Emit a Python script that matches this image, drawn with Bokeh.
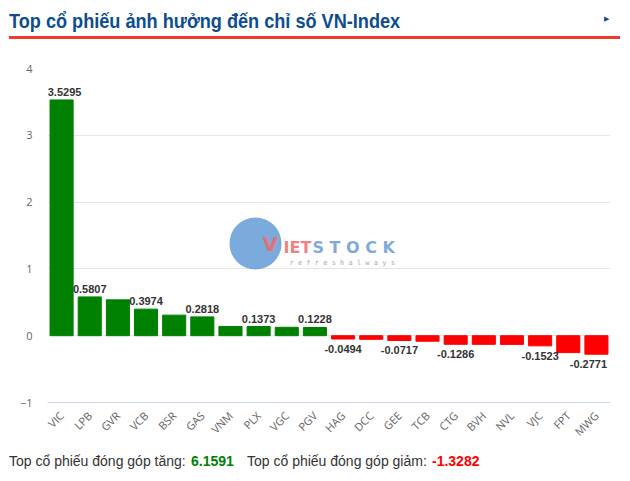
from math import pi
from bokeh.plotting import figure
from bokeh.layouts import column
from bokeh.models import (ColumnDataSource, Range1d, FactorRange, FixedTicker, Label,
                          BoxAnnotation, Div)
from bokeh.core.properties import value
from bokeh.embed import file_html
from bokeh.resources import INLINE

# ---- data ----
tickers = ["VIC", "LPB", "GVR", "VCB", "BSR", "GAS", "VNM", "PLX", "VGC", "PGV",
           "HAG", "DCC", "GEE", "TCB", "CTG", "BVH", "NVL", "VJC", "FPT", "MWG"]
impact = [3.5295, 0.5807, 0.5366, 0.3974, 0.3080, 0.2818, 0.1390, 0.1373, 0.1260, 0.1228,
          -0.0494, -0.0540, -0.0717, -0.0830, -0.1286, -0.1293, -0.1300, -0.1523, -0.2530, -0.2771]
labelled = ["VIC", "LPB", "VCB", "GAS", "PLX", "PGV", "HAG", "GEE", "CTG", "VJC", "MWG"]
y_ticks = [-1, 0, 1, 2, 3, 4]
total_up = 6.1591
total_down = -1.3282
title_text = "Top cổ phiếu ảnh hưởng đến chỉ số VN-Index"
foot_up = "Top cổ phiếu đóng góp tăng:"
foot_down = "Top cổ phiếu đóng góp giảm:"

W = 620
HEAD_H, MAIN_H, FOOT_H = 50, 398, 28
FL, FT, FR, FB = 47, 68, 610, 402          # frame box on the page
GREEN, RED = "#008000", "#ff0000"
TITLE_BLUE = "#0d4d8f"

colors = [GREEN if v >= 0 else RED for v in impact]
src = ColumnDataSource(dict(x=tickers, top=impact, color=colors))

def nudge(t):
    # keep the edge labels inside the plot area
    if t == tickers[0]:
        return 3
    if t == tickers[-1]:
        return -8
    return 0

pos = [(t, v) for t, v in zip(tickers, impact) if t in labelled and v >= 0]
neg = [(t, v) for t, v in zip(tickers, impact) if t in labelled and v < 0]
src_pos = ColumnDataSource(dict(x=[t for t, _ in pos], y=[v for _, v in pos],
                                txt=["%.4f" % v for _, v in pos],
                                dx=[nudge(t) for t, _ in pos]))
src_neg = ColumnDataSource(dict(x=[t for t, _ in neg], y=[v for _, v in neg],
                                txt=["%.4f" % v for _, v in neg],
                                dx=[nudge(t) for t, _ in neg]))

# ---------------- main chart ----------------
p = figure(x_range=FactorRange(*tickers), y_range=Range1d(y_ticks[0], y_ticks[-1]),
           width=W, height=MAIN_H, output_backend="svg", toolbar_location=None,
           min_border_left=FL, min_border_right=W - FR,
           min_border_top=FT - HEAD_H, min_border_bottom=HEAD_H + MAIN_H - FB)
p.outline_line_color = None
p.xgrid.grid_line_color = None
p.ygrid.grid_line_color = "#e6e6e6"

p.yaxis.ticker = FixedTicker(ticks=y_ticks)
p.yaxis.major_label_overrides = {-1: "\u22121"}
p.yaxis.axis_line_color = None
p.yaxis.major_tick_line_color = None
p.yaxis.minor_tick_line_color = None
p.yaxis.major_tick_out = 0
p.yaxis.major_tick_in = 0
p.yaxis.major_label_standoff = 15
p.yaxis.major_label_text_font = "Open Sans"
p.yaxis.major_label_text_font_size = "11px"
p.yaxis.major_label_text_color = "#666666"

p.xaxis.axis_line_color = "#ccd6eb"
p.xaxis.major_tick_line_color = None
p.xaxis.major_tick_out = 0
p.xaxis.major_tick_in = 0
p.xaxis.major_label_orientation = pi / 4
p.xaxis.major_label_standoff = 11
p.xaxis.major_label_text_font = "Open Sans"
p.xaxis.major_label_text_font_size = "11px"
p.xaxis.major_label_text_color = "#666666"

def sx(px):
    return px - FL

def sy(py):
    return FB - py

def wm(px, py, text, **kw):
    p.add_layout(Label(x=sx(px), y=sy(py), x_units="screen", y_units="screen", text=text,
                       text_baseline="middle", level="underlay", **kw))

# watermark (Vietstock logo)
p.add_layout(BoxAnnotation(left=sx(229), right=sx(281), top=sy(217), bottom=sy(269),
                           left_units="screen", right_units="screen",
                           top_units="screen", bottom_units="screen",
                           fill_color="#4f8fd0", fill_alpha=0.75, line_color=None,
                           border_radius=26, level="underlay"))
wm(262, 243, "V", text_font="DejaVu Sans", text_font_style="bold", text_font_size="20px",
   text_color="#f06a6a", text_alpha=0.9)
wm(283, 247, "IET", text_font="DejaVu Sans", text_font_style="bold", text_font_size="16px",
   text_color="#f06a6a", text_alpha=0.85)
wm(312, 247, "S T O C K", text_font="DejaVu Sans", text_font_style="bold", text_font_size="16px",
   text_color="#6a9bd2", text_alpha=0.85)
wm(289, 262, "r e f r e s h   a l w a y s", text_font="DejaVu Sans Mono", text_font_size="7px",
   text_color="#aaaaaa")

p.vbar(x="x", top="top", bottom=0, width=0.82, color="color", source=src)

p.text(x="x", y="y", text="txt", source=src_pos, text_align="center", text_baseline="bottom",
       y_offset=-4, x_offset="dx", text_font=value("Liberation Sans"), text_font_style="bold",
       text_font_size="11px", text_color="#333333")
p.text(x="x", y="y", text="txt", source=src_neg, text_align="center", text_baseline="top",
       y_offset=6, x_offset="dx", text_font=value("Liberation Sans"), text_font_style="bold",
       text_font_size="11px", text_color="#333333")

# ---------------- header & footer ----------------
head_html = (
    f'<div style="position:relative;width:{W}px;height:{HEAD_H}px;margin:0;padding:0;">'
    f'<span style="position:absolute;left:9px;top:7px;line-height:28px;white-space:nowrap;'
    f'font-family:\'Liberation Sans\',Arial,sans-serif;font-weight:bold;'
    f'font-size:21px;color:{TITLE_BLUE};transform:scaleX(0.863);transform-origin:0 50%;'
    f'display:inline-block;">{title_text}</span>'
    f'<span style="position:absolute;left:604px;top:12px;line-height:14px;font-size:7px;'
    f'font-family:\'DejaVu Sans\';color:{TITLE_BLUE};">&#9654;</span>'
    f'<div style="position:absolute;left:9px;top:36px;width:611px;height:3px;'
    f'background:#ee3b2e;"></div></div>'
)
foot_html = (
    f'<div style="position:relative;width:{W}px;height:{FOOT_H}px;margin:0;padding:0;'
    f'font-family:\'Liberation Sans\',Arial,sans-serif;font-size:14px;line-height:20px;'
    f'white-space:nowrap;color:#333333;">'
    f'<span style="position:absolute;left:9px;top:3px;">{foot_up}</span>'
    f'<span style="position:absolute;left:191px;top:3px;font-weight:bold;color:{GREEN};">'
    f'{total_up:.4f}</span>'
    f'<span style="position:absolute;left:247px;top:3px;">{foot_down}</span>'
    f'<span style="position:absolute;left:432px;top:3px;font-weight:bold;color:{RED};">'
    f'{total_down:.4f}</span></div>'
)
head = Div(text=head_html, width=W, height=HEAD_H, margin=0)
foot = Div(text=foot_html, width=W, height=FOOT_H, margin=0)

page = column(head, p, foot, spacing=0)

open("out.html", "w").write(file_html(page, INLINE))
